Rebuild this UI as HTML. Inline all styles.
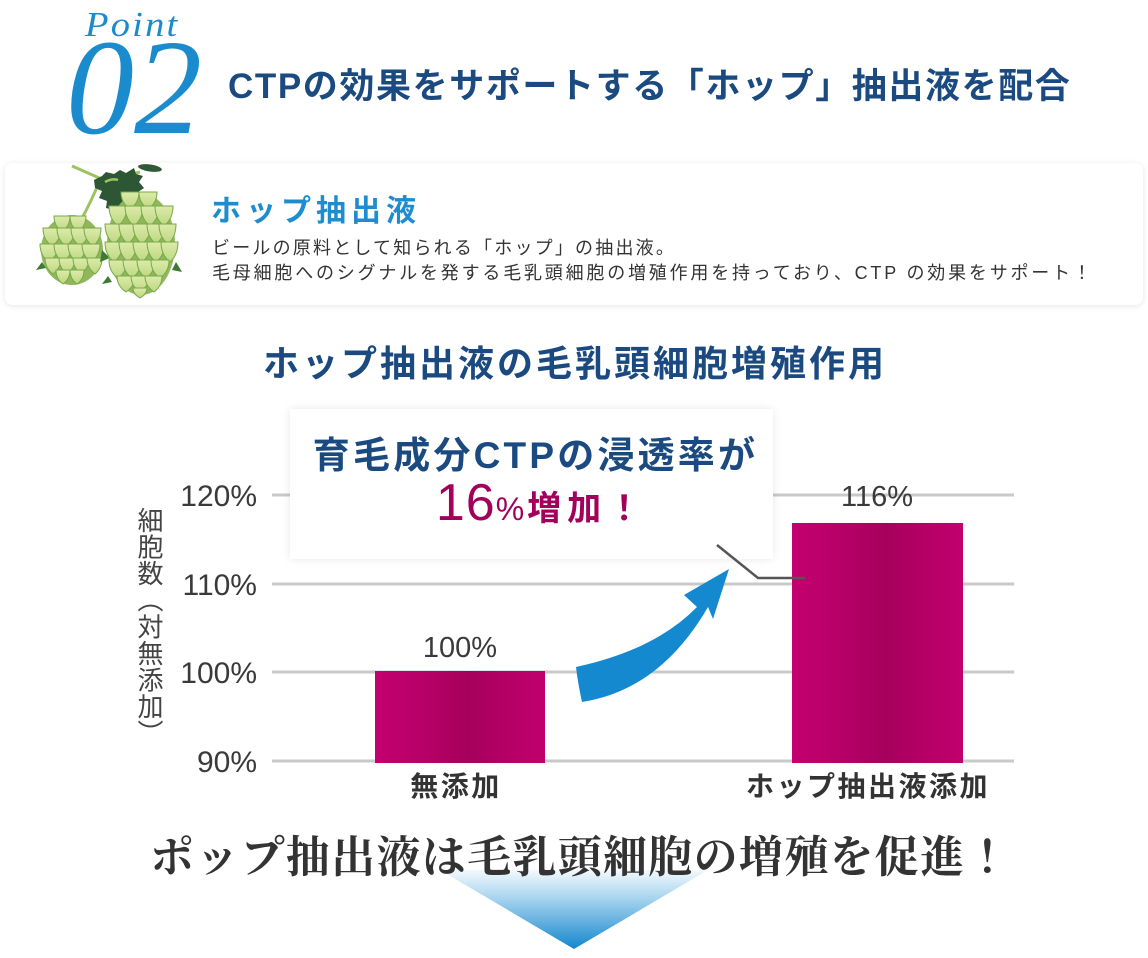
<!DOCTYPE html>
<html lang="ja">
<head>
<meta charset="utf-8">
<style>
  html,body{margin:0;padding:0;background:#fff;}
  body{width:1148px;height:958px;position:relative;overflow:hidden;
       font-family:"Liberation Sans","Noto Sans CJK JP",sans-serif;}
  .t{position:absolute;white-space:nowrap;line-height:1;}
  svg{position:absolute;left:0;top:0;}
</style>
</head>
<body>
<svg width="1148" height="958" viewBox="0 0 1148 958" xmlns="http://www.w3.org/2000/svg">
  <defs>
    <filter id="sh" x="-5%" y="-20%" width="110%" height="140%">
      <feDropShadow dx="0" dy="1" stdDeviation="3" flood-color="#000" flood-opacity="0.10"/>
    </filter>
    <filter id="sh2" x="-5%" y="-20%" width="110%" height="140%">
      <feDropShadow dx="0" dy="0" stdDeviation="4" flood-color="#000" flood-opacity="0.09"/>
    </filter>
    <linearGradient id="bar" x1="0" y1="0" x2="1" y2="0">
      <stop offset="0" stop-color="#c3006f"/>
      <stop offset="0.3" stop-color="#b60067"/>
      <stop offset="0.55" stop-color="#a6005c"/>
      <stop offset="0.78" stop-color="#b50066"/>
      <stop offset="1" stop-color="#c1006e"/>
    </linearGradient>
    <linearGradient id="tri" x1="0" y1="0" x2="0" y2="1">
      <stop offset="0" stop-color="#f2f9fd"/>
      <stop offset="0.35" stop-color="#a9d5ef"/>
      <stop offset="1" stop-color="#1387cd"/>
    </linearGradient>
    <linearGradient id="cone" x1="0" y1="0" x2="0" y2="1">
      <stop offset="0" stop-color="#dcebaa"/>
      <stop offset="1" stop-color="#bcd780"/>
    </linearGradient>
  </defs>

  <!-- card -->
  <rect x="5" y="163" width="1138" height="142" rx="8" fill="#fff" filter="url(#sh)"/>

  <!-- hop illustration -->
  <g>
    <path d="M72,166 Q95,176 108,182 Q125,176 140,172" stroke="#9cc45c" stroke-width="3" fill="none"/>
    <path d="M100,180 Q92,200 80,222" stroke="#9cc45c" stroke-width="3" fill="none"/>
    <path d="M118,182 Q130,190 138,200" stroke="#9cc45c" stroke-width="3" fill="none"/>
    <ellipse cx="150" cy="168" rx="12" ry="3.5" fill="#2e5a36" transform="rotate(8 150 168)"/>
    <path d="M94,180 L102,176 L106,172 L114,174 L120,170 L126,173 L134,168 L136,174 L143,176 L139,182 L144,188 L138,192 L141,200 L133,202 L131,210 L124,208 L119,216 L114,210 L106,208 L107,201 L99,198 L102,191 L95,188 Z" fill="#2c5634"/>
    <path d="M105,182 Q112,178 118,180" stroke="#9cc45c" stroke-width="2.5" fill="none"/>
    <ellipse cx="72" cy="250" rx="31" ry="35" fill="#8fb85a"/>
    <g fill="url(#cone)" stroke="#79a84a" stroke-width="1">
      <path d="M54,216 Q54,226 62,232 Q70,226 70,216 Z"/>
      <path d="M70,216 Q70,226 78,232 Q86,226 86,216 Z"/>
      <path d="M43,228 Q43,240 52,246 Q61,240 61,228 Z"/>
      <path d="M57,228 Q57,240 66,246 Q75,240 75,228 Z"/>
      <path d="M71,228 Q71,240 80,246 Q89,240 89,228 Z"/>
      <path d="M84,228 Q84,240 93,246 Q101,240 101,228 Z"/>
      <path d="M40,244 Q40,256 49,262 Q58,256 58,244 Z"/>
      <path d="M54,244 Q54,256 63,262 Q72,256 72,244 Z"/>
      <path d="M68,244 Q68,256 77,262 Q86,256 86,244 Z"/>
      <path d="M82,244 Q82,256 91,262 Q100,256 100,244 Z"/>
      <path d="M45,258 Q45,268 53,274 Q61,268 61,258 Z"/>
      <path d="M59,258 Q59,268 67,274 Q75,268 75,258 Z"/>
      <path d="M73,258 Q73,268 81,274 Q89,268 89,258 Z"/>
      <path d="M87,258 Q87,268 95,274 Q102,268 102,258 Z"/>
      <path d="M56,270 Q56,279 63,284 Q70,279 70,270 Z"/>
      <path d="M70,270 Q70,279 77,284 Q84,279 84,270 Z"/>
    </g>
    <path d="M42,262 L36,270 L46,268 Z M102,250 L110,258 L100,262 Z" fill="#3d7a33"/>
    <ellipse cx="141" cy="244" rx="34" ry="51" fill="#8fb85a"/>
    <g fill="url(#cone)" stroke="#79a84a" stroke-width="1">
      <path d="M121,192 Q121,203 130,209 Q139,203 139,192 Z"/>
      <path d="M139,192 Q139,203 148,209 Q157,203 157,192 Z"/>
      <path d="M109,206 Q109,219 118,226 Q127,219 127,206 Z"/>
      <path d="M125,206 Q125,219 134,226 Q143,219 143,206 Z"/>
      <path d="M141,206 Q141,219 150,226 Q159,219 159,206 Z"/>
      <path d="M155,206 Q155,219 164,226 Q173,219 173,206 Z"/>
      <path d="M105,224 Q105,237 114,244 Q123,237 123,224 Z"/>
      <path d="M119,224 Q119,237 128,244 Q137,237 137,224 Z"/>
      <path d="M133,224 Q133,237 142,244 Q151,237 151,224 Z"/>
      <path d="M147,224 Q147,237 156,244 Q165,237 165,224 Z"/>
      <path d="M159,224 Q159,237 168,244 Q176,237 176,224 Z"/>
      <path d="M105,242 Q105,255 114,262 Q123,255 123,242 Z"/>
      <path d="M119,242 Q119,255 128,262 Q137,255 137,242 Z"/>
      <path d="M133,242 Q133,255 142,262 Q151,255 151,242 Z"/>
      <path d="M147,242 Q147,255 156,262 Q165,255 165,242 Z"/>
      <path d="M161,242 Q161,255 170,262 Q178,255 178,242 Z"/>
      <path d="M109,260 Q109,272 118,278 Q127,272 127,260 Z"/>
      <path d="M123,260 Q123,272 132,278 Q141,272 141,260 Z"/>
      <path d="M137,260 Q137,272 146,278 Q155,272 155,260 Z"/>
      <path d="M151,260 Q151,272 160,278 Q169,272 169,260 Z"/>
      <path d="M117,276 Q117,286 126,292 Q135,286 135,276 Z"/>
      <path d="M131,276 Q131,286 140,292 Q149,286 149,276 Z"/>
      <path d="M145,276 Q145,286 154,292 Q162,286 162,276 Z"/>
      <path d="M133,288 Q133,294 140,298 Q147,294 147,288 Z"/>
    </g>
    <path d="M176,262 L182,272 L172,270 Z M108,276 L102,284 L112,282 Z" fill="#3d7a33"/>
  </g>

  <!-- grid lines -->
  <g stroke="#c9c9c9" stroke-width="3">
    <line x1="272" y1="495" x2="1014" y2="495"/>
    <line x1="272" y1="584" x2="1014" y2="584"/>
    <line x1="272" y1="672" x2="1014" y2="672"/>
    <line x1="272" y1="761" x2="1014" y2="761"/>
  </g>

  <!-- callout box -->
  <rect x="290" y="409" width="483" height="150" fill="#fff" filter="url(#sh2)"/>

  <!-- bars -->
  <rect x="375" y="671" width="170" height="92" fill="url(#bar)"/>
  <rect x="792" y="523" width="171" height="240" fill="url(#bar)"/>

  <!-- arrow -->
  <path d="M576,667 Q655,650 697,607 L684,595 L729,569 L713,619 L708,607 Q660,690 582,702 Q578,684 576,667 Z" fill="#1489cf"/>

  <!-- leader line -->
  <polyline points="717,545 758,578 805,578" fill="none" stroke="#555" stroke-width="2.5"/>

  <!-- bottom triangle -->
  <polygon points="440,870 708,870 574,949" fill="url(#tri)"/>
</svg>

<!-- Header -->
<div class="t" style="left:85px;top:7px;font-family:'Liberation Serif',serif;font-style:italic;font-size:35px;color:#1a8ccd;letter-spacing:2px;transform:scaleX(1.1);transform-origin:left top;">Point</div>
<div class="t" style="left:66px;top:20px;font-family:'Liberation Serif',serif;font-style:italic;font-size:136px;color:#1a8ccd;letter-spacing:0px;">02</div>
<div class="t" style="left:228px;top:69px;font-size:35px;font-weight:bold;color:#1b4a80;letter-spacing:1.6px;">CTPの効果をサポートする「ホップ」抽出液を配合</div>

<!-- card text -->
<div class="t" style="left:211px;top:197px;font-size:30px;font-weight:bold;color:#1e8dcf;letter-spacing:5px;">ホップ抽出液</div>
<div class="t" style="left:212px;top:239px;font-size:18px;color:#333;letter-spacing:2.2px;">ビールの原料として知られる「ホップ」の抽出液。</div>
<div class="t" style="left:212px;top:264px;font-size:18px;color:#333;letter-spacing:2.8px;">毛母細胞へのシグナルを発する毛乳頭細胞の増殖作用を持っており、CTP の効果をサポート！</div>

<!-- section heading -->
<div class="t" style="left:263px;top:346px;font-size:36px;font-weight:bold;color:#1b4a80;letter-spacing:3px;">ホップ抽出液の毛乳頭細胞増殖作用</div>

<!-- callout text -->
<div class="t" style="left:294px;top:437px;width:483px;text-align:center;font-size:37px;font-weight:bold;color:#1b4a80;letter-spacing:3.2px;">育毛成分CTPの浸透率が</div>
<div class="t" style="left:300px;top:478px;width:483px;text-align:center;font-size:50px;line-height:50px;color:#a3005c;"><span style="font-size:52px;letter-spacing:1px;">16</span><span style="font-size:32px;letter-spacing:3px;">%</span><span style="font-size:34px;font-weight:bold;letter-spacing:6px;">増加！</span></div>

<!-- y-axis label -->
<div class="t" style="left:135px;top:507px;writing-mode:vertical-rl;font-size:26px;line-height:27px;letter-spacing:0.6px;color:#444;">細胞数（対無添加）</div>

<!-- tick labels -->
<div class="t" style="left:157px;top:482px;width:100px;text-align:right;font-size:30px;color:#3a3a3a;">120%</div>
<div class="t" style="left:157px;top:571px;width:100px;text-align:right;font-size:30px;color:#3a3a3a;">110%</div>
<div class="t" style="left:157px;top:659px;width:100px;text-align:right;font-size:30px;color:#3a3a3a;">100%</div>
<div class="t" style="left:157px;top:748px;width:100px;text-align:right;font-size:30px;color:#3a3a3a;">90%</div>

<!-- value labels -->
<div class="t" style="left:400px;top:634px;width:120px;text-align:center;font-size:29px;color:#3a3a3a;">100%</div>
<div class="t" style="left:817px;top:483px;width:120px;text-align:center;font-size:29px;color:#3a3a3a;">116%</div>

<!-- category labels -->
<div class="t" style="left:356px;top:773px;width:200px;text-align:center;font-size:28px;font-weight:bold;color:#333;letter-spacing:2.5px;">無添加</div>
<div class="t" style="left:718px;top:773px;width:300px;text-align:center;font-size:28px;font-weight:bold;color:#333;letter-spacing:2.5px;">ホップ抽出液添加</div>

<!-- bottom text -->
<div class="t" style="left:150px;top:836px;font-family:'Liberation Serif','Noto Serif CJK SC',serif;font-size:44px;font-weight:bold;color:#333;letter-spacing:1.3px;">ポップ抽出液は毛乳頭細胞の増殖を促進！</div>
</body>
</html>
